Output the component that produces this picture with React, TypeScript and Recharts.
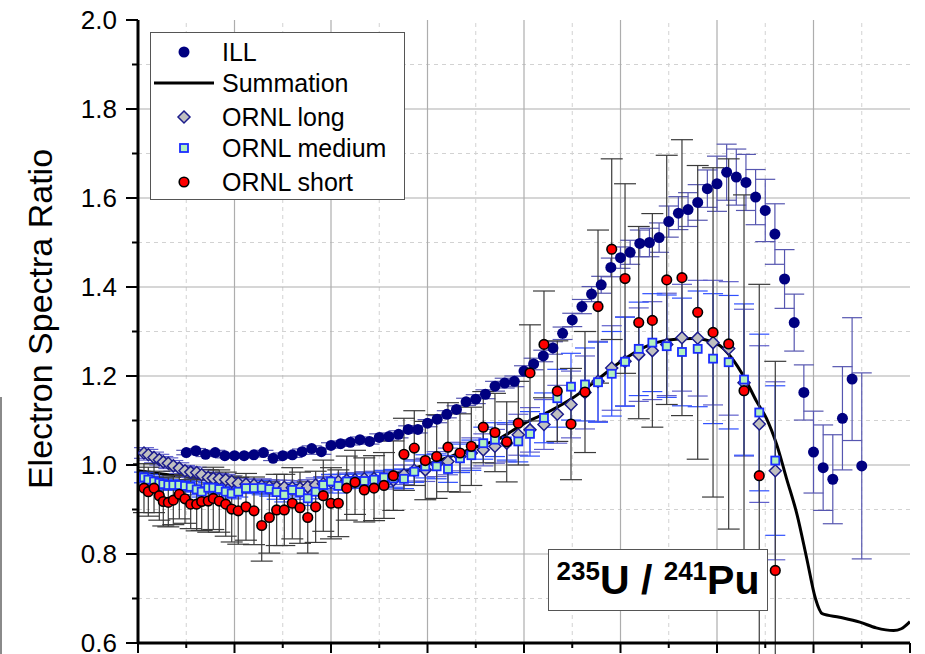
import React from 'react';
import { ComposedChart, Scatter, Line, XAxis, YAxis, ErrorBar, ReferenceLine } from 'recharts';

// ---------------- data ----------------
const illEnergy = [
  2.5, 2.6, 2.7, 2.8, 2.9, 3.0, 3.1, 3.2, 3.3, 3.4,
  3.5, 3.6, 3.7, 3.8, 3.9, 4.0, 4.1, 4.2, 4.3, 4.4,
  4.5, 4.6, 4.7, 4.8, 4.9, 5.0, 5.1, 5.2, 5.3, 5.4,
  5.5, 5.6, 5.7, 5.8, 5.9, 6.0, 6.1, 6.2, 6.3, 6.4,
  6.5, 6.6, 6.7, 6.8, 6.9, 7.0, 7.1, 7.2, 7.3, 7.4,
  7.5, 7.6, 7.7, 7.8, 7.9, 8.0, 8.1, 8.2, 8.3, 8.4,
  8.5, 8.6, 8.7, 8.8, 8.9, 9.0, 9.1, 9.2, 9.3, 9.4, 9.5,
];
const illRatio = [
  1.028, 1.032, 1.024, 1.028, 1.021, 1.021, 1.021, 1.023, 1.028, 1.015,
  1.021, 1.023, 1.030, 1.037, 1.030, 1.044, 1.048, 1.051, 1.057, 1.053,
  1.062, 1.064, 1.069, 1.080, 1.080, 1.094, 1.103, 1.114, 1.125, 1.142,
  1.148, 1.159, 1.177, 1.184, 1.188, 1.211, 1.227, 1.245, 1.263, 1.296,
  1.326, 1.356, 1.384, 1.405, 1.444, 1.466, 1.478, 1.498, 1.500, 1.511,
  1.547, 1.566, 1.574, 1.590, 1.621, 1.632, 1.658, 1.647, 1.635, 1.602,
  1.572, 1.519, 1.418, 1.320, 1.163, 1.029, 0.994, 0.968, 1.105, 1.193, 0.998,
];
const illError = [
  0.005, 0.005, 0.005, 0.005, 0.005, 0.005, 0.005, 0.005, 0.005, 0.005,
  0.006, 0.006, 0.006, 0.006, 0.006, 0.006, 0.006, 0.006, 0.006, 0.006,
  0.008, 0.008, 0.008, 0.008, 0.008, 0.008, 0.008, 0.008, 0.008, 0.008,
  0.010, 0.010, 0.011, 0.011, 0.012, 0.012, 0.013, 0.013, 0.014, 0.014,
  0.015, 0.016, 0.017, 0.019, 0.021, 0.024, 0.027, 0.030, 0.032, 0.033,
  0.035, 0.037, 0.038, 0.040, 0.042, 0.062, 0.063, 0.063, 0.063, 0.062,
  0.070, 0.068, 0.066, 0.064, 0.062, 0.092, 0.096, 0.100, 0.116, 0.138, 0.209,
];

const ornlEnergy = [
  2.062, 2.107, 2.166, 2.221, 2.262, 2.314, 2.366, 2.428, 2.487, 2.546,
  2.608, 2.660, 2.728, 2.780, 2.842, 2.909, 2.971, 3.039, 3.119, 3.202,
  3.282, 3.361, 3.437, 3.516, 3.599, 3.679, 3.759, 3.841, 3.920, 4.000,
  4.076, 4.163, 4.249, 4.345, 4.446, 4.549, 4.646, 4.756, 4.863, 4.977,
  5.095, 5.212, 5.337, 5.454, 5.578, 5.699, 5.821, 5.941, 6.062, 6.207,
  6.345, 6.487, 6.632, 6.767, 6.909, 7.047, 7.189, 7.330, 7.479, 7.637,
  7.800, 7.959, 8.121, 8.280, 8.438, 8.604,
];
const ornlLong = [
  1.027, 1.023, 1.017, 1.012, 1.007, 1.004, 0.998, 0.993, 0.987, 0.984,
  0.983, 0.978, 0.972, 0.970, 0.969, 0.967, 0.963, 0.959, 0.957, 0.955,
  0.953, 0.951, 0.950, 0.950, 0.949, 0.948, 0.951, 0.955, 0.958, 0.962,
  0.963, 0.966, 0.967, 0.969, 0.970, 0.968, 0.966, 0.978, 0.988, 0.989,
  1.002, 1.008, 1.019, 1.027, 1.034, 1.042, 1.049, 1.068, 1.079, 1.091,
  1.114, 1.136, 1.163, 1.188, 1.218, 1.233, 1.248, 1.257, 1.271, 1.286,
  1.285, 1.275, 1.262, 1.185, 1.092, 0.987,
];
const ornlLongErr = [
  0.012, 0.012, 0.012, 0.012, 0.012, 0.012, 0.012, 0.012, 0.012, 0.012,
  0.012, 0.012, 0.012, 0.012, 0.012, 0.012, 0.012, 0.012, 0.012, 0.012,
  0.016, 0.016, 0.016, 0.016, 0.016, 0.016, 0.016, 0.016, 0.016, 0.016,
  0.016, 0.016, 0.016, 0.016, 0.016, 0.016, 0.020, 0.022, 0.024, 0.026,
  0.028, 0.030, 0.032, 0.034, 0.036, 0.038, 0.042, 0.046, 0.050, 0.056,
  0.065, 0.075, 0.082, 0.090, 0.095, 0.100, 0.105, 0.110, 0.115, 0.120,
  0.130, 0.140, 0.150, 0.165, 0.176, 0.200,
];
const ornlMedium = [
  0.972, 0.967, 0.963, 0.960, 0.957, 0.955, 0.955, 0.955, 0.953, 0.951,
  0.945, 0.940, 0.949, 0.949, 0.946, 0.940, 0.936, 0.940, 0.948, 0.948,
  0.949, 0.946, 0.939, 0.933, 0.944, 0.939, 0.925, 0.940, 0.955, 0.963,
  0.953, 0.963, 0.964, 0.964, 0.967, 0.972, 0.970, 0.969, 0.985, 0.997,
  0.997, 0.991, 1.015, 1.022, 1.049, 1.057, 1.053, 1.053, 1.070, 1.106,
  1.150, 1.176, 1.181, 1.186, 1.205, 1.232, 1.261, 1.275, 1.267, 1.254,
  1.261, 1.239, 1.231, 1.192, 1.118, 1.010,
];
const ornlMediumErr = [
  0.012, 0.012, 0.012, 0.012, 0.012, 0.012, 0.012, 0.012, 0.012, 0.012,
  0.012, 0.012, 0.012, 0.012, 0.012, 0.012, 0.012, 0.012, 0.012, 0.012,
  0.016, 0.016, 0.016, 0.016, 0.016, 0.016, 0.016, 0.016, 0.016, 0.016,
  0.016, 0.016, 0.016, 0.016, 0.016, 0.016, 0.020, 0.022, 0.024, 0.026,
  0.028, 0.030, 0.032, 0.034, 0.036, 0.038, 0.042, 0.046, 0.050, 0.056,
  0.065, 0.075, 0.082, 0.090, 0.095, 0.100, 0.105, 0.110, 0.115, 0.121,
  0.130, 0.146, 0.150, 0.170, 0.176, 0.168,
];
const ornlShort = [
  0.948, 0.940, 0.948, 0.931, 0.918, 0.916, 0.921, 0.934, 0.924, 0.912,
  0.912, 0.918, 0.919, 0.925, 0.919, 0.912, 0.901, 0.897, 0.906, 0.897,
  0.864, 0.882, 0.899, 0.899, 0.914, 0.904, 0.882, 0.906, 0.931, 0.914,
  0.914, 0.948, 0.961, 0.944, 0.948, 0.954, 0.976, 1.024, 1.038, 1.010,
  1.019, 1.040, 1.027, 1.042, 1.085, 1.073, 1.052, 1.094, 1.207, 1.271,
  1.166, 1.092, 1.164, 1.356, 1.485, 1.419, 1.320, 1.325, 1.416, 1.421,
  1.343, 1.298, 1.272, 1.167, 0.976, 0.763,
];
const ornlShortErr = [
  0.055, 0.055, 0.055, 0.055, 0.055, 0.055, 0.055, 0.055, 0.055, 0.055,
  0.060, 0.065, 0.070, 0.070, 0.070, 0.072, 0.074, 0.075, 0.075, 0.076,
  0.080, 0.080, 0.080, 0.080, 0.080, 0.080, 0.080, 0.080, 0.080, 0.080,
  0.075, 0.072, 0.072, 0.072, 0.073, 0.074, 0.078, 0.081, 0.084, 0.088,
  0.094, 0.100, 0.088, 0.088, 0.080, 0.088, 0.090, 0.094, 0.108, 0.120,
  0.113, 0.125, 0.136, 0.172, 0.203, 0.213, 0.216, 0.240, 0.280, 0.310,
  0.330, 0.370, 0.416, 0.440, 0.430, 0.470,
];

const sumEnergy = [
  2.0, 2.25, 2.5, 2.75, 3.0, 3.25, 3.5, 3.75, 4.0, 4.25,
  4.5, 4.75, 5.0, 5.25, 5.5, 5.75, 6.0, 6.25, 6.5, 6.75,
  7.0, 7.25, 7.5, 7.75, 8.0, 8.15, 8.3, 8.41, 8.51, 8.62,
  8.72, 8.83, 8.93, 9.02, 9.09, 9.27, 9.48, 9.65, 9.83, 9.91, 10.0,
];
const sumRatio = [
  0.987, 0.980, 0.973, 0.966, 0.961, 0.957, 0.955, 0.954, 0.957, 0.963,
  0.973, 0.986, 1.002, 1.020, 1.040, 1.060, 1.093, 1.119, 1.150, 1.190,
  1.232, 1.265, 1.281, 1.284, 1.272, 1.241, 1.190, 1.143, 1.106, 1.045,
  0.970, 0.888, 0.790, 0.700, 0.666, 0.658, 0.647, 0.634, 0.628, 0.632, 0.648,
];

const xMajor = [2, 3, 4, 5, 6, 7, 8, 9, 10];
const xMinor = [2.5, 3.5, 4.5, 5.5, 6.5, 7.5, 8.5, 9.5];
const yMajor = [0.6, 0.8, 1.0, 1.2, 1.4, 1.6, 1.8, 2.0];
const yMinor = [0.7, 0.9, 1.1, 1.3, 1.5, 1.7, 1.9];

const legendLabels = ['ILL', 'Summation', 'ORNL long', 'ORNL medium', 'ORNL short'];
const yAxisTitle = 'Electron Spectra Ratio';

// ---------------- styles ----------------
const FONT = '"Liberation Sans", Arial, Helvetica, sans-serif';
const NAVY = '#000080';
const RED = '#ff0000';
const GREEN = '#b2f2c0';
const BLUE = '#1a2cff';
const GRAY = '#c0c0c0';

const isMajor = (v: number, list: number[]) => list.some((m) => Math.abs(m - v) < 1e-6);

const IllDot = (p: any) => <circle cx={p.cx} cy={p.cy} r={5.5} fill={NAVY} />;
const ShortDot = (p: any) => <circle cx={p.cx} cy={p.cy} r={4.8} fill={RED} stroke="#000" strokeWidth={1.6} />;
const MedSquare = (p: any) => (
  <rect x={p.cx - 4} y={p.cy - 4} width={8} height={8} fill={GREEN} stroke={BLUE} strokeWidth={1.8} />
);
const LongDiamond = (p: any) => {
  const s = 6;
  return (
    <path
      d={`M${p.cx},${p.cy - s}L${p.cx + s},${p.cy}L${p.cx},${p.cy + s}L${p.cx - s},${p.cy}Z`}
      fill={GRAY}
      stroke="#1c1c8c"
      strokeWidth={1.5}
    />
  );
};

const BottomTick = (p: any) => {
  const major = isMajor(p.payload.value, xMajor);
  return <line x1={p.x} x2={p.x} y1={p.y} y2={p.y + (major ? 10 : 5)} stroke="#000" strokeWidth={2} />;
};
const TopTick = (p: any) => {
  const major = isMajor(p.payload.value, xMajor);
  return <line x1={p.x} x2={p.x} y1={p.y} y2={p.y + (major ? 12 : 7)} stroke="#000" strokeWidth={2} />;
};
const LeftTick = (p: any) => {
  const v = p.payload.value;
  const major = isMajor(v, yMajor);
  return (
    <g>
      <line x1={p.x} x2={p.x - (major ? 12 : 6)} y1={p.y} y2={p.y} stroke="#000" strokeWidth={2} />
      {major && (
        <text x={p.x - 21} y={p.y} dy="0.35em" textAnchor="end" fontSize={26} fontFamily={FONT} fill="#000">
          {v.toFixed(1)}
        </text>
      )}
    </g>
  );
};
const RightTick = (p: any) => {
  const major = isMajor(p.payload.value, yMajor);
  return <line x1={p.x} x2={p.x - (major ? 12 : 6)} y1={p.y} y2={p.y} stroke="#000" strokeWidth={2} />;
};

const LegendIcon = ({ kind }: { kind: number }) => (
  <svg width={70} height={20} style={{ position: 'absolute', left: 0, top: -10 }}>
    {kind === 0 && <circle cx={33} cy={10} r={5.5} fill={NAVY} />}
    {kind === 1 && <line x1={3} x2={63} y1={10} y2={10} stroke="#000" strokeWidth={3} />}
    {kind === 2 && <path d="M33,4L39,10L33,16L27,10Z" fill={GRAY} stroke="#1c1c8c" strokeWidth={1.5} />}
    {kind === 3 && <rect x={29} y={6} width={8} height={8} fill={GREEN} stroke={BLUE} strokeWidth={1.8} />}
    {kind === 4 && <circle cx={33} cy={10} r={4.8} fill={RED} stroke="#000" strokeWidth={1.6} />}
  </svg>
);

export default function App() {
  const illData = illEnergy.map((e, i) => ({ e, v: illRatio[i], err: illError[i] }));
  const longData = ornlEnergy.map((e, i) => ({ e, v: ornlLong[i], err: ornlLongErr[i] }));
  const medData = ornlEnergy.map((e, i) => ({ e, v: ornlMedium[i], err: ornlMediumErr[i] }));
  const shortData = ornlEnergy.map((e, i) => ({ e, v: ornlShort[i], err: ornlShortErr[i] }));
  const sumData = sumEnergy.map((e, i) => ({ e, v: sumRatio[i] }));

  const legendRowTops = [18.7, 49.7, 84, 114.7, 149];

  return (
    <div
      style={{
        position: 'absolute',
        left: 0,
        top: 0,
        width: 925,
        height: 654,
        background: '#fff',
        overflow: 'hidden',
        fontFamily: FONT,
      }}
    >
      <ComposedChart width={925} height={654} margin={{ top: 20, right: 15, bottom: 0, left: 58 }}>
        <XAxis
          type="number"
          dataKey="e"
          domain={[2, 10]}
          ticks={[...xMajor, ...xMinor].sort((a, b) => a - b)}
          height={11}
          tickSize={0}
          tickMargin={0}
          tick={BottomTick}
          axisLine={{ stroke: '#000', strokeWidth: 3 }}
          allowDataOverflow
          interval={0}
        />
        <XAxis
          xAxisId="t"
          orientation="top"
          type="number"
          dataKey="e"
          domain={[2, 10]}
          ticks={[...xMajor, ...xMinor].sort((a, b) => a - b)}
          height={0}
          tickSize={0}
          tickMargin={0}
          tick={TopTick}
          axisLine={{ stroke: '#000', strokeWidth: 3 }}
          allowDataOverflow
          interval={0}
        />
        <YAxis
          type="number"
          dataKey="v"
          domain={[0.6, 2.0]}
          ticks={[...yMajor, ...yMinor].sort((a, b) => a - b)}
          width={80}
          tickSize={0}
          tickMargin={0}
          tick={LeftTick}
          axisLine={{ stroke: '#000', strokeWidth: 3 }}
          allowDataOverflow
          interval={0}
        />
        <YAxis
          yAxisId="r"
          orientation="right"
          type="number"
          dataKey="v"
          domain={[0.6, 2.0]}
          ticks={[...yMajor, ...yMinor].sort((a, b) => a - b)}
          width={0}
          tickSize={0}
          tickMargin={0}
          tick={RightTick}
          axisLine={{ stroke: '#000', strokeWidth: 3 }}
          allowDataOverflow
          interval={0}
        />

        {xMinor.map((v) => (
          <ReferenceLine key={'xm' + v} x={v} stroke="#d2d2d2" strokeDasharray="4 4" strokeWidth={1} />
        ))}
        {yMinor.map((v) => (
          <ReferenceLine key={'ym' + v} y={v} stroke="#d2d2d2" strokeDasharray="4 4" strokeWidth={1} />
        ))}
        {xMajor.slice(1, -1).map((v) => (
          <ReferenceLine key={'xM' + v} x={v} stroke="#adadad" strokeWidth={1.2} />
        ))}
        {yMajor.slice(1, -1).map((v) => (
          <ReferenceLine key={'yM' + v} y={v} stroke="#adadad" strokeWidth={1.2} />
        ))}

        <Scatter name="ILL" data={illData} shape={IllDot} isAnimationActive={false}>
          <ErrorBar dataKey="err" direction="y" width={10} stroke="#5656b0" strokeWidth={1.2} />
        </Scatter>
        <Line
          name="Summation"
          data={sumData}
          dataKey="v"
          type="monotone"
          stroke="#000"
          strokeWidth={3}
          dot={false}
          activeDot={false}
          isAnimationActive={false}
        />
        <Scatter name="ORNL long" data={longData} shape={LongDiamond} isAnimationActive={false}>
          <ErrorBar dataKey="err" direction="y" width={10} stroke="#6060cc" strokeWidth={1.2} />
        </Scatter>
        <Scatter name="ORNL medium" data={medData} shape={MedSquare} isAnimationActive={false}>
          <ErrorBar dataKey="err" direction="y" width={10} stroke="#3050ff" strokeWidth={1.2} />
        </Scatter>
        <Scatter name="ORNL short" data={shortData} shape={ShortDot} isAnimationActive={false}>
          <ErrorBar dataKey="err" direction="y" width={11} stroke="#3a3a3a" strokeWidth={1.2} />
        </Scatter>
      </ComposedChart>

      {/* y axis title */}
      <div
        style={{
          position: 'absolute',
          left: 40,
          top: 319,
          transform: 'translate(-50%, -50%) rotate(-90deg)',
          whiteSpace: 'nowrap',
          fontSize: 34,
          lineHeight: '38px',
          color: '#000',
        }}
      >
        {yAxisTitle}
      </div>

      {/* legend */}
      <div
        style={{
          position: 'absolute',
          left: 150,
          top: 32,
          width: 253,
          height: 166,
          border: '1px solid #555',
          background: '#fff',
        }}
      >
        {legendLabels.map((lab, i) => (
          <div key={lab} style={{ position: 'absolute', left: 0, top: legendRowTops[i], height: 0 }}>
            <LegendIcon kind={i} />
            <div
              style={{
                position: 'absolute',
                left: 71,
                top: -15,
                fontSize: 25,
                lineHeight: '30px',
                whiteSpace: 'nowrap',
                color: '#000',
              }}
            >
              {lab}
            </div>
          </div>
        ))}
      </div>

      {/* annotation */}
      <div
        style={{
          position: 'absolute',
          left: 548,
          top: 549,
          width: 218,
          height: 60,
          border: '1px solid #555',
          background: '#fff',
          display: 'flex',
          alignItems: 'center',
          justifyContent: 'center',
          fontWeight: 'bold',
          fontSize: 41,
          color: '#000',
          whiteSpace: 'nowrap',
        }}
      >
        <span>
          <sup style={{ fontSize: 26, verticalAlign: '0.55em' }}>235</sup>U / <sup style={{ fontSize: 26, verticalAlign: '0.55em' }}>241</sup>Pu
        </span>
      </div>

      {/* fragment of neighbouring figure frame */}
      <div style={{ position: 'absolute', left: 0, top: 397, width: 2, height: 257, background: '#8a8a8a' }} />
    </div>
  );
}
